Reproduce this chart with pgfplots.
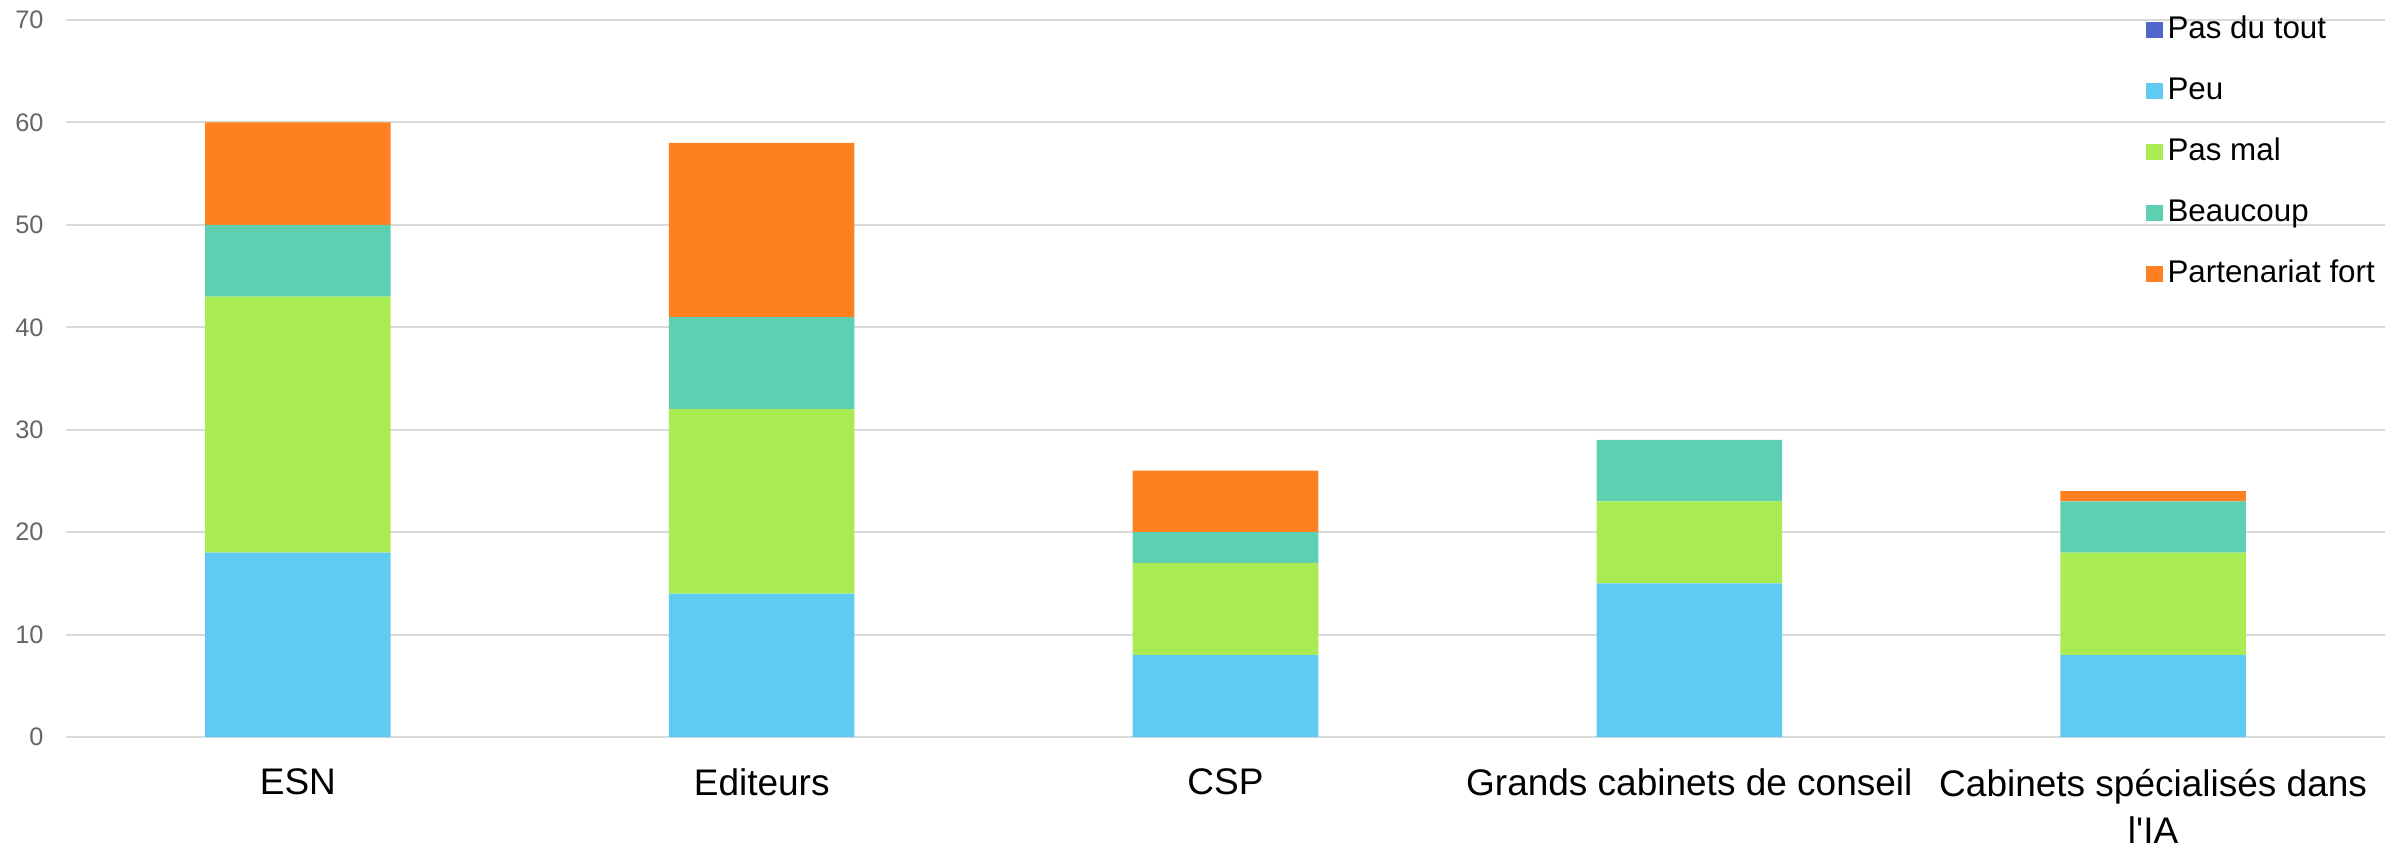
\documentclass[border=0pt]{standalone}
\usepackage{fontspec}
\setmainfont{Liberation Sans}
\usepackage{pgfplots}
\pgfplotsset{compat=1.18}
\definecolor{cPdt}{RGB}{79,103,202}
\definecolor{cPeu}{RGB}{95,203,242}
\definecolor{cPasmal}{RGB}{169,235,83}
\definecolor{cBeau}{RGB}{94,207,177}
\definecolor{cPart}{RGB}{255,128,33}
\definecolor{gridgray}{RGB}{217,217,217}
\definecolor{tickgray}{RGB}{102,102,102}
\begin{document}
\begin{tikzpicture}
\begin{axis}[
  scale only axis, width=695.7pt, height=215.1pt,
  ybar stacked, bar width=0.4,
  xmin=-0.5, xmax=4.5, ymin=0, ymax=70,
  enlargelimits=false,
  ytick={0,10,...,70},
  xtick={0,1,2,3,4},
  xticklabels={ESN,Editeurs,CSP,Grands cabinets de conseil,{Cabinets spécialisés dans\\l\textquotesingle IA}},
  xticklabel style={align=center, font=\fontsize{11.1}{14.1}\selectfont, yshift=-6pt},
  yticklabel style={font=\fontsize{7.6}{9}\selectfont, text=tickgray, xshift=-3.2pt},
  /pgf/number format/assume math mode=true,
  axis line style={draw=none},
  major tick length=0,
  ymajorgrids, grid style={draw=gridgray, line width=0.6pt},
  legend image code/.code={\fill[#1] (0pt,-2.5pt) rectangle (5pt,2.5pt);},
  legend cell align=left,
  legend style={draw=none, fill=none, at={(rel axis cs:0.8966,1.015)}, anchor=north west,
    font=\fontsize{9.4}{11}\selectfont, row sep=6.3pt, inner sep=0pt,
    nodes={inner sep=1.5pt, text height=7pt, text depth=2pt}},
]
\addplot[fill=cPdt, draw=none] coordinates {(0,0) (1,0) (2,0) (3,0) (4,0)};
\addplot[fill=cPeu, draw=none] coordinates {(0,18) (1,14) (2,8) (3,15) (4,8)};
\addplot[fill=cPasmal, draw=none] coordinates {(0,25) (1,18) (2,9) (3,8) (4,10)};
\addplot[fill=cBeau, draw=none] coordinates {(0,7) (1,9) (2,3) (3,6) (4,5)};
\addplot[fill=cPart, draw=none] coordinates {(0,10) (1,17) (2,6) (3,0) (4,1)};
\legend{Pas du tout, Peu, Pas mal, Beaucoup, Partenariat fort}
\end{axis}
\pgfresetboundingbox
\path[use as bounding box] (-19.8pt,-33pt) rectangle (699.3pt,221.1pt);
\end{tikzpicture}
\end{document}
